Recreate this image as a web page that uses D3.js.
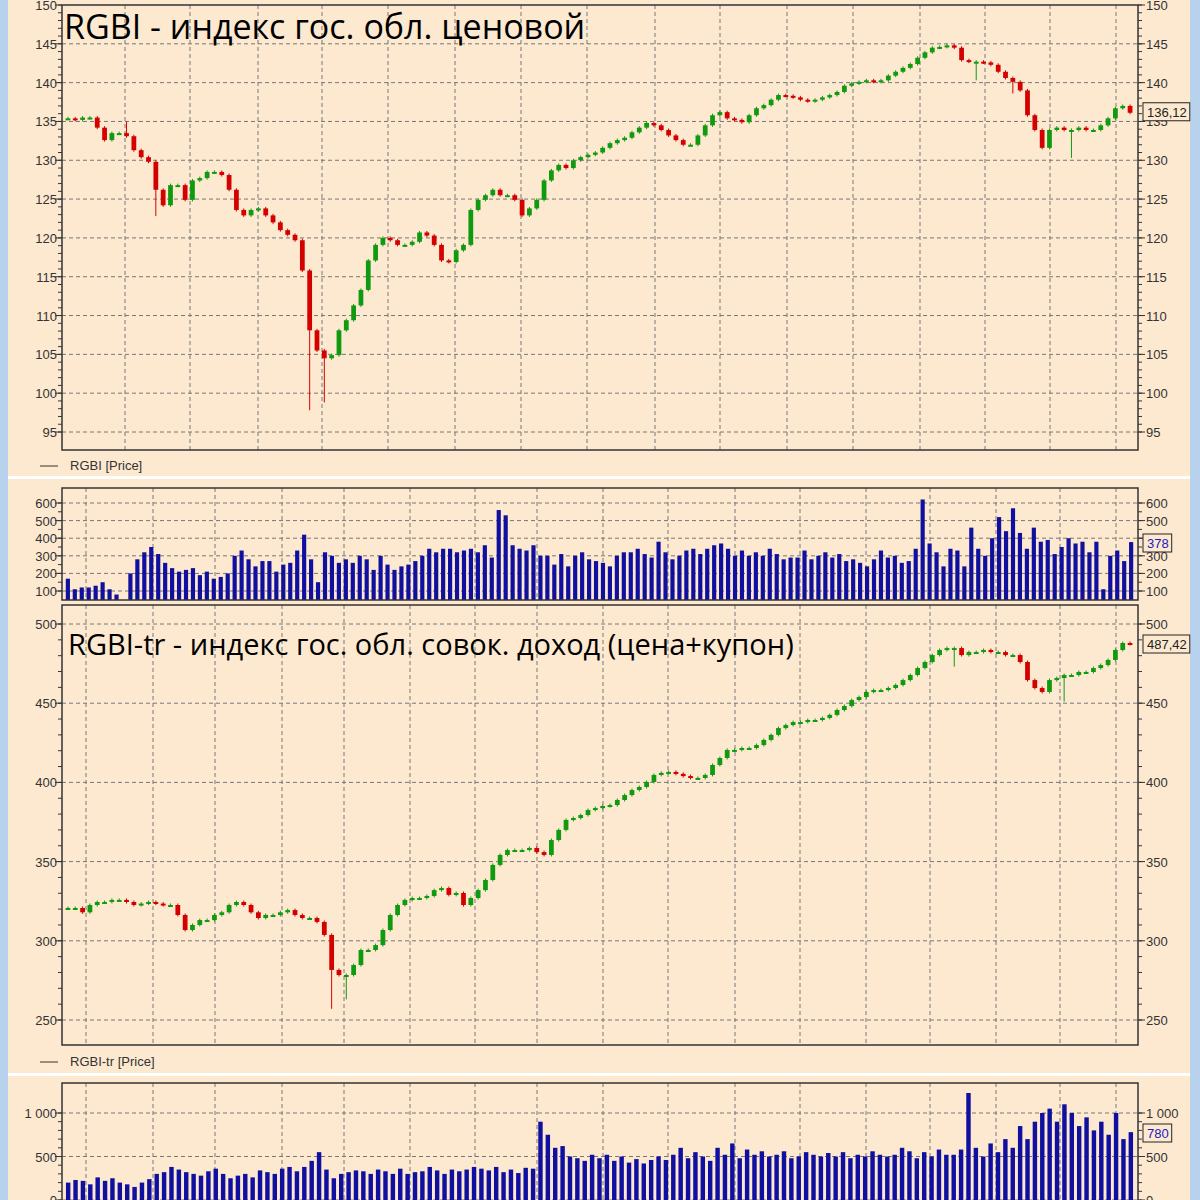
<!DOCTYPE html>
<html><head><meta charset="utf-8">
<script src="https://cdn.jsdelivr.net/npm/d3@7"></script>
<style>body{margin:0;background:#fde9d0}svg{display:block}</style>
</head><body><svg id="c" width="1200" height="1200"></svg>
<script>
const rgbiClose=[135.4,135.2,135.5,135.5,134.2,132.6,133.5,133.5,133.1,131.3,130.4,129.8,126.2,124.2,126.8,126.8,124.9,127.4,127.7,128.5,128.5,128.1,126.2,123.6,122.9,123.6,123.8,122.9,122,121,120.4,119.7,115.8,108.1,105.5,104.5,104.9,108.1,109.4,111.3,113.3,117.1,119.1,120,119.7,119.1,119.1,119.5,120.7,120.3,119.1,117.1,116.9,118.4,119.1,123.6,124.9,125.5,126.2,125.5,125.5,124.9,122.9,123.8,124.9,127.4,128.7,129.4,129,130,130.4,130.7,131,131.6,132.2,132.6,132.9,133.6,134.2,134.8,134.5,133.9,133.2,132.6,132,132,133.2,134.5,135.8,136.2,135.4,135.2,134.9,135.8,136.7,137.1,137.8,138.4,138.3,138.1,137.8,137.6,137.8,138.1,138.4,138.8,139.6,139.9,140.1,140.3,140.1,140.3,140.9,141.4,141.9,142.4,143.2,143.9,144.5,144.6,144.8,144.5,142.9,142.7,142.7,142.6,142.3,141.4,140.6,140.1,139,135.8,133.9,131.6,133.9,134.2,133.9,133.9,134.2,133.9,133.9,134.5,135.4,136.7,137,136.12];
const rgbiSpikes=[{i:33,low:98},{i:35,low:99},{i:12,low:123},{i:8,high:134.8},{i:124,low:140.5},{i:129,low:138.8},{i:137,low:130.5}];
const trClose=[320.7,320.7,318,322.6,324.5,324.5,325.8,325.8,324.5,322.6,323.5,324.5,323.5,322.6,322.6,316.3,306.8,310,313.1,313.1,316.3,318,322.6,324.5,322.6,318,314.4,316.3,316.3,318,319.4,316.3,314.4,314.4,311.9,303.7,281.6,278.4,278.4,284.7,294.2,294.2,297.3,306.8,316.3,322.6,325.8,327,327,328.3,332,333.3,329,330.2,322.6,327,332,338.4,347.9,354.2,357.3,357.3,357.3,358.6,356,354.2,363.6,370,376.3,377.5,379.4,382.6,383.8,385.1,385.7,388.9,392,395.2,397.1,400.3,404.7,406,406.6,405.4,404,402.8,402.8,404.7,411,415.4,420.5,420.5,421.7,421.7,423.6,426.8,430,434.3,436.2,438.1,438.1,439.4,439.4,440.7,442.6,445.7,448.2,452,453.9,457.1,458.3,458.3,459.6,461.5,464.6,467.8,472.2,476,480.4,483.6,484.8,484.8,480.4,482.3,482.3,483.6,482.3,482.3,480.4,480.4,476,464.6,459.6,457.1,464.6,465.9,467.8,467.8,469.7,469.7,472.2,474.1,477.3,483.6,488,487.42];
const trSpikes=[{i:36,low:258},{i:38,low:264},{i:59,low:349},{i:121,low:474},{i:136,low:452}];
const rgbiVol=[170,110,120,120,130,150,110,80,40,200,280,320,350,310,260,230,210,220,230,190,210,170,180,200,300,330,280,240,270,270,210,250,260,330,420,280,150,320,300,260,280,260,300,280,220,300,250,220,240,250,270,300,340,320,340,340,320,330,340,320,360,290,560,530,360,340,330,360,300,300,250,310,240,300,320,280,270,260,240,300,320,320,340,310,290,380,320,280,300,330,340,310,340,360,370,340,300,330,300,320,300,340,310,280,290,290,330,280,300,320,290,310,270,280,260,240,280,330,290,300,260,270,340,620,370,320,240,340,330,240,460,340,300,400,520,440,570,430,340,460,380,390,310,350,400,370,380,320,380,110,300,330,270,378];
const trVol=[200,230,220,180,260,220,250,200,180,150,200,240,300,320,380,350,320,300,280,330,360,300,250,280,300,260,340,320,300,360,380,330,380,450,550,350,250,300,320,340,330,300,350,330,300,360,300,320,330,380,340,300,350,330,350,380,360,340,380,320,350,310,370,360,900,750,600,620,500,480,450,520,480,520,450,500,430,470,420,460,500,460,520,600,480,550,500,450,600,520,650,480,580,520,560,500,520,560,480,500,550,520,500,540,500,550,480,520,500,560,520,500,520,600,560,480,550,500,580,520,520,580,1230,600,500,650,550,700,600,850,700,900,1000,1050,900,1100,1000,850,950,800,900,750,1000,700,780];
const p1Ticks=[95,100,105,110,115,120,125,130,135,140,145,150];
const p2Ticks=[100,200,300,400,500,600];
const p3Ticks=[250,300,350,400,450,500];
const p4Ticks=[0,500,1000];
const gridTop=[125,190,258,322,388,455,521,587,655,720,787,853,920,985,1050,1116];
const gridLow=[86,153,215,282,344,410,475,537,603,668,735,800,866,930,996,1060,1116];

const svg=d3.select("#c");
const L=62,R=1138,BG="#fde9d0",UP="#109a10",DN="#d40000",VB="#1010a0";
svg.append("rect").attr("width",1200).attr("height",1200).attr("fill",BG);
svg.append("rect").attr("x",0).attr("width",8).attr("height",1200).attr("fill","#b8d2ee");
svg.append("rect").attr("x",1190).attr("width",10).attr("height",1200).attr("fill","#b8d2ee");
[476,1073].forEach(y=>svg.append("rect").attr("x",8).attr("y",y).attr("width",1182).attr("height",3).attr("fill","#fff"));

function panel(top,bottom,y,ticks,minor,grid,fmt){
  const g=svg.append("g");
  grid.forEach(x=>g.append("line").attr("x1",x).attr("x2",x).attr("y1",top).attr("y2",bottom).attr("stroke","#777").attr("stroke-dasharray","4,3"));
  ticks.forEach(t=>{const yy=y(t);if(yy<top+1||yy>bottom-1)return;
    g.append("line").attr("x1",L).attr("x2",R).attr("y1",yy).attr("y2",yy).attr("stroke","#777").attr("stroke-dasharray","4,3");});
  const [a,b]=y.domain().slice().sort((p,q)=>p-q);
  const ml=d3.range(Math.ceil(a/minor)*minor,b+0.001,minor).filter(v=>y(v)>=top&&y(v)<=bottom);
  ml.forEach(v=>{const yy=y(v);g.append("line").attr("x1",L-4).attr("x2",L).attr("y1",yy).attr("y2",yy).attr("stroke","#333");
    g.append("line").attr("x1",R).attr("x2",R+4).attr("y1",yy).attr("y2",yy).attr("stroke","#333");});
  ticks.forEach(t=>{const yy=y(t);if(yy<top-8||yy>bottom+8)return;
    g.append("line").attr("x1",L-7).attr("x2",L).attr("y1",yy).attr("y2",yy).attr("stroke","#333");
    g.append("line").attr("x1",R).attr("x2",R+7).attr("y1",yy).attr("y2",yy).attr("stroke","#333");
    g.append("text").attr("x",L-5).attr("y",yy+5).attr("text-anchor","end").attr("font-family","Liberation Sans").attr("font-size",13).attr("fill","#333").text(fmt(t));
    g.append("text").attr("x",R+8).attr("y",yy+5).attr("font-family","Liberation Sans").attr("font-size",13).attr("fill","#333").text(fmt(t));});
  return g;
}
function frame(top,bottom){svg.append("rect").attr("x",L).attr("y",top).attr("width",R-L).attr("height",bottom-top).attr("fill","none").attr("stroke","#333").attr("stroke-width",1.5);}
function candles(data,spikes,y,top,bottom){
  const x=d3.scaleBand().domain(d3.range(data.length)).range([L+1,R-3]).padding(0.35);
  const g=svg.append("g");
  data.forEach((c,i)=>{
    const o=i?data[i-1]:c; const up=c>=o; const col=up?UP:DN;
    let hi=Math.max(o,c),lo=Math.min(o,c);
    spikes.filter(s=>s.i===i).forEach(s=>{if(s.low!=null)lo=Math.min(lo,s.low);if(s.high!=null)hi=Math.max(hi,s.high);});
    const cx=x(i)+x.bandwidth()/2;
    g.append("line").attr("x1",cx).attr("x2",cx).attr("y1",y(hi)-1.5).attr("y2",y(lo)+1.5).attr("stroke",col).attr("stroke-width",1);
    const y1=y(Math.max(o,c)),y2=y(Math.min(o,c));
    g.append("rect").attr("x",x(i)).attr("y",y1).attr("width",x.bandwidth()).attr("height",Math.max(2,y2-y1)).attr("fill",col);
  });
}
function bars(data,y,top,bottom){
  const x=d3.scaleBand().domain(d3.range(data.length)).range([L+1,R-2]).padding(0.4);
  svg.append("g").selectAll("rect").data(data).join("rect").attr("x",(d,i)=>x(i)).attr("width",x.bandwidth())
    .attr("y",d=>Math.max(top,y(d))).attr("height",d=>Math.max(0,bottom-Math.max(top,y(d)))).attr("fill",VB);
}
function box(yc,txt,col){
  const g=svg.append("g");
  const t=g.append("text").attr("x",1147).attr("y",yc+5).attr("font-family","Liberation Sans").attr("font-size",13).attr("fill",col).text(txt);
  const w=t.node().getComputedTextLength();
  g.insert("rect","text").attr("x",1143).attr("y",yc-9).attr("width",w+7).attr("height",18).attr("fill",BG).attr("stroke","#222");
}
function legend(y,txt){
  svg.append("line").attr("x1",40).attr("x2",58).attr("y1",y-4).attr("y2",y-4).attr("stroke","#333");
  svg.append("text").attr("x",70).attr("y",y).attr("font-family","Liberation Sans").attr("font-size",13).attr("fill","#333").text(txt);
}
const nf=d=>d3.format(",")(d).replace(/,/g," ");

const y1=d3.scaleLinear().domain([95,150]).range([432,5]);
panel(5,450,y1,p1Ticks,1,gridTop,d=>d);
candles(rgbiClose,rgbiSpikes,y1,5,450);
frame(5,450);
svg.append("text").attr("x",64).attr("y",39).attr("font-family","Open Sans").attr("font-size",34).attr("fill","#000").text("RGBI - индекс гос. обл. ценовой");
box(y1(136.12)-1,"136,12","#222");
legend(470,"RGBI [Price]");

const y2=d3.scaleLinear().domain([100,600]).range([591,503]);
panel(488,600,y2,p2Ticks,50,gridLow,d=>d);
bars(rgbiVol,y2,488,600);
frame(488,600);
box(543,"378","#2020c0");

const y3=d3.scaleLinear().domain([250,500]).range([1020,624]);
panel(605,1045,y3,p3Ticks,10,gridLow,d=>d);
candles(trClose,trSpikes,y3,605,1045);
frame(605,1045);
svg.append("text").attr("x",68).attr("y",655).attr("font-family","Open Sans").attr("font-size",29).attr("fill","#000").text("RGBI-tr - индекс гос. обл. совок. доход (цена+купон)");
box(644,"487,42","#222");
legend(1066,"RGBI-tr [Price]");

const y4=d3.scaleLinear().domain([0,1000]).range([1200,1113]);
panel(1083,1203,y4,p4Ticks,100,gridLow,nf);
bars(trVol,y4,1083,1200);
frame(1083,1203);
box(1133,"780","#2020c0");
</script></body></html>
